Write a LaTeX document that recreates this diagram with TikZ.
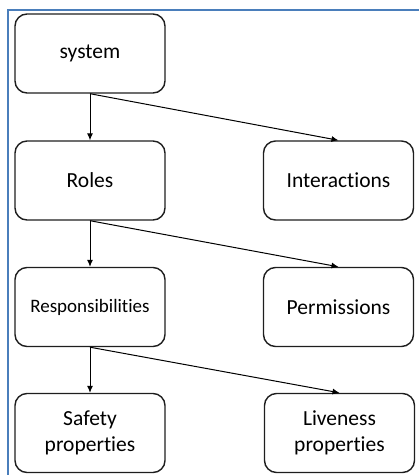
\documentclass[tikz,border=0pt]{standalone}
\usepackage{fontspec}
\setmainfont{Carlito}[RawFeature=-liga]
\usetikzlibrary{arrows.meta}
\definecolor{frameblue}{RGB}{74,126,187}
\definecolor{boxline}{RGB}{30,30,30}

\begin{document}
\begin{tikzpicture}[x=1pt, y=1pt,
	block/.style = {draw = boxline, line width = 1.4pt, rounded corners = 12pt,
		minimum width = 150pt, minimum height = 79pt, align = center,
		font = \fontsize{21.5}{26}\selectfont},
	link/.style = {line width = 1pt, -{Latex[length=7pt, width=6pt]}}]
\useasboundingbox (0,0) rectangle (419,-475);
\draw[frameblue, line width = 2pt] (8,-475)--(8,-10)--(419,-10);

\node[block] (system) at (90,-53.5) {system};
\node[block] (roles) at (90,-180.5) {Roles};
\node[block] (interactions) at (338.5,-180.5) {Interactions};
\node[block, font = \fontsize{19}{24}\selectfont] (resp) at (90,-307) {Responsibilities};
\node[block] (permissions) at (338.5,-307) {Permissions};
\node[block] (safety) at (90,-433) {Safety\\properties};
\node[block] (liveness) at (339.5,-433) {Liveness\\properties};

\draw[link] (system.south) -- (roles.north);
\draw[link] (system.south) -- (interactions.north);
\draw[link] (roles.south) -- (resp.north);
\draw[link] (roles.south) -- (permissions.north);
\draw[link] (resp.south) -- (safety.north);
\draw[link] (resp.south) -- (liveness.north);
\end{tikzpicture}
\end{document}
